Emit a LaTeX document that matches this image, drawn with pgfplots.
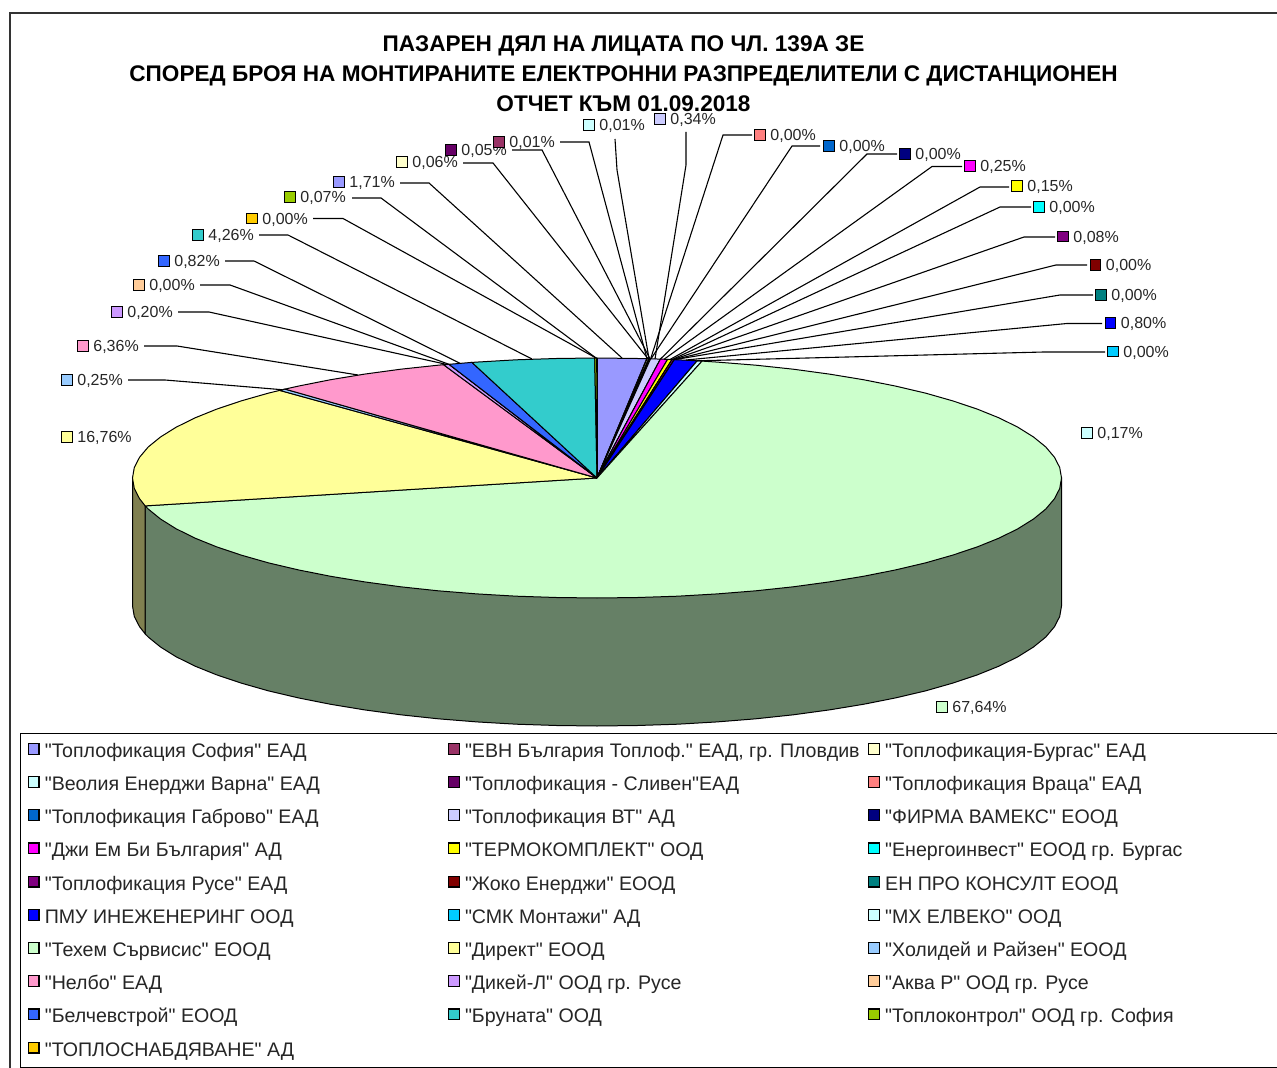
\documentclass[border=0pt]{standalone}
\usepackage{pgfplots}
\pgfplotsset{compat=1.18}
\usepackage{fontspec}
\setmainfont{Liberation Sans}[Ligatures=TeXOff]

\definecolor{c1}{HTML}{9999FF}
\definecolor{c2}{HTML}{993366}
\definecolor{c3}{HTML}{FFFFCC}
\definecolor{c4}{HTML}{CCFFFF}
\definecolor{c5}{HTML}{660066}
\definecolor{c6}{HTML}{FF8080}
\definecolor{c7}{HTML}{0066CC}
\definecolor{c8}{HTML}{CCCCFF}
\definecolor{c9}{HTML}{000080}
\definecolor{c10}{HTML}{FF00FF}
\definecolor{c11}{HTML}{FFFF00}
\definecolor{c12}{HTML}{00FFFF}
\definecolor{c13}{HTML}{800080}
\definecolor{c14}{HTML}{800000}
\definecolor{c15}{HTML}{008080}
\definecolor{c16}{HTML}{0000FF}
\definecolor{c17}{HTML}{00CCFF}
\definecolor{c18}{HTML}{CCFFFF}
\definecolor{c19}{HTML}{CCFFCC}
\definecolor{c20}{HTML}{FFFF99}
\definecolor{c21}{HTML}{99CCFF}
\definecolor{c22}{HTML}{FF99CC}
\definecolor{c23}{HTML}{CC99FF}
\definecolor{c24}{HTML}{FFCC99}
\definecolor{c25}{HTML}{3366FF}
\definecolor{c26}{HTML}{33CCCC}
\definecolor{c27}{HTML}{99CC00}
\definecolor{c28}{HTML}{FFCC00}
\definecolor{wall19}{HTML}{668066}
\definecolor{wall20}{HTML}{808050}

\pgfplotsset{
    slice/.style={fill=#1, draw=black, line width=.5pt},
    leader/.style={forget plot, black, line width=.55pt},
}
% value label: marker square, then the text
\newcommand{\lab}[4]{%
    \addplot[forget plot, only marks, mark=square*, mark size=2.6pt,
        mark options={fill=#3, draw=black, line width=.6pt}] coordinates {(#1,#2)};
    \node[anchor=base west, inner sep=0pt, xshift=5pt, yshift=-2.9pt, text=black!85,
        font=\fontsize{8}{10}\selectfont] at (axis cs:#1,#2) {#4\%};
}
% legend cells of fixed width, so the three columns stand where they should
\newcommand{\legA}[1]{\hspace*{2.6pt}\makebox[201.5pt][l]{#1}}
\newcommand{\legC}[1]{\hspace*{2.6pt}\makebox[196pt][l]{#1}}

\begin{document}
\begin{tikzpicture}
\path[use as bounding box] (0,0) rectangle (638.5pt,534pt);
\begin{axis}[
    scale only axis, width=638.5pt, height=534pt,
    xmin=0, xmax=1277, ymin=0, ymax=1068, y dir=reverse,
    hide axis, clip=false,
    legend columns=3, legend cell align=left,
    legend image code/.code={\draw[#1,line width=.6pt] (0pt,-1.7pt) rectangle (5.4pt,3.7pt);},
    legend style={
        at={(axis cs:20,732.5)}, anchor=north west, draw=black, line width=.6pt,
        inner xsep=3.5pt, inner ysep=.5pt, font=\fontsize{9.8}{12}\selectfont, text=black!85,
        nodes={inner xsep=0pt, inner ysep=0pt, text height=11.6pt, text depth=5pt},
    },
]
% frame of the chart
\addplot[forget plot, black!80, line width=.6pt] coordinates {(10,1068)(10,13)(1277,13)};

% side walls
\addplot[forget plot, slice=wall19] coordinates {
    (597,478)(1061.5,478)(1061.5,606)(1059.7,616.5)(1054.4,626.8)(1045.7,637.1)(1033.5,647)
    (1018,656.7)(999.3,666)(977.5,674.8)(952.8,683.1)(925.4,690.9)(895.6,697.9)(863.4,704.3)
    (829.3,709.9)(793.3,714.8)(755.9,718.8)(717.2,721.9)(677.7,724.2)(637.5,725.5)(597,726)
    (556.5,725.5)(516.3,724.2)(476.8,721.9)(438.1,718.8)(400.7,714.8)(364.7,709.9)(330.6,704.3)
    (298.4,697.9)(268.6,690.9)(241.2,683.1)(216.5,674.8)(194.7,666)(176,656.7)(160.5,647)
    (148.3,637.1)(145.2,633.9)(145.2,505.9)(597,478)};
\addplot[forget plot, slice=wall20] coordinates {
    (145.2,505.9)(145.2,633.9)(139.6,626.8)(134.3,616.5)(132.5,606)(132.5,478)(145.2,505.9)};

% top face, one slice per company, clockwise from the top
\addplot[slice=c1] coordinates {(597,478)(597,358)(637.5,358.5)(646.8,358.7)(597,478)};
\addlegendentry{\legA{"Топлофикация София" ЕАД}}
\addplot[slice=c2] coordinates {(597,478)(646.8,358.7)(647.1,358.7)(597,478)};
\addlegendentry{\legA{"ЕВН България Топлоф." ЕАД, гр. Пловдив}}
\addplot[slice=c3] coordinates {(597,478)(647.1,358.7)(648.8,358.75)(597,478)};
\addlegendentry{\legC{"Топлофикация-Бургас" ЕАД}}
\addplot[slice=c4] coordinates {(597,478)(648.8,358.75)(649.1,358.8)(597,478)};
\addlegendentry{\legA{"Веолия Енерджи Варна" ЕАД}}
\addplot[slice=c5] coordinates {(597,478)(649.1,358.8)(650.6,358.8)(597,478)};
\addlegendentry{\legA{"Топлофикация - Сливен"ЕАД}}
\addplot[slice=c6] coordinates {(597,478)(650.6,358.8)};
\addlegendentry{\legC{"Топлофикация Враца" ЕАД}}
\addplot[slice=c7] coordinates {(597,478)(650.6,358.8)};
\addlegendentry{\legA{"Топлофикация Габрово" ЕАД}}
\addplot[slice=c8] coordinates {(597,478)(650.6,358.8)(660.4,359.1)(597,478)};
\addlegendentry{\legA{"Топлофикация ВТ" АД}}
\addplot[slice=c9] coordinates {(597,478)(660.4,359.1)};
\addlegendentry{\legC{"ФИРМА ВАМЕКС" ЕООД}}
\addplot[slice=c10] coordinates {(597,478)(660.4,359.1)(667.6,359.4)(597,478)};
\addlegendentry{\legA{"Джи Ем Би България" АД}}
\addplot[slice=c11] coordinates {(597,478)(667.6,359.4)(672,359.6)(597,478)};
\addlegendentry{\legA{"ТЕРМОКОМПЛЕКТ" ООД}}
\addplot[slice=c12] coordinates {(597,478)(672,359.6)};
\addlegendentry{\legC{"Енергоинвест" ЕООД гр. Бургас}}
\addplot[slice=c13] coordinates {(597,478)(672,359.6)(674.3,359.7)(597,478)};
\addlegendentry{\legA{"Топлофикация Русе" ЕАД}}
\addplot[slice=c14] coordinates {(597,478)(674.3,359.7)};
\addlegendentry{\legA{"Жоко Енерджи" ЕООД}}
\addplot[slice=c15] coordinates {(597,478)(674.3,359.7)};
\addlegendentry{\legC{ЕН ПРО КОНСУЛТ ЕООД}}
\addplot[slice=c16] coordinates {(597,478)(674.3,359.7)(677.7,359.8)(697.2,360.8)(597,478)};
\addlegendentry{\legA{ПМУ ИНЕЖЕНЕРИНГ ООД}}
\addplot[slice=c17] coordinates {(597,478)(697.2,360.8)};
\addlegendentry{\legA{"СМК Монтажи" АД}}
\addplot[slice=c18] coordinates {(597,478)(697.2,360.8)(702,361.1)(597,478)};
\addlegendentry{\legC{"МХ ЕЛВЕКО" ООД}}
\addplot[slice=c19] coordinates {
    (597,478)(702,361.1)(717.2,362.1)(755.9,365.2)(793.3,369.2)(829.3,374.1)(863.4,379.7)
    (895.6,386.1)(925.4,393.1)(952.8,400.9)(977.5,409.2)(999.3,418)(1018,427.3)(1033.5,437)
    (1045.7,446.9)(1054.4,457.2)(1059.7,467.5)(1061.5,478)(1059.7,488.5)(1054.4,498.8)
    (1045.7,509.1)(1033.5,519)(1018,528.7)(999.3,538)(977.5,546.8)(952.8,555.1)(925.4,562.9)
    (895.6,569.9)(863.4,576.3)(829.3,581.9)(793.3,586.8)(755.9,590.8)(717.2,593.9)(677.7,596.2)
    (637.5,597.5)(597,598)(556.5,597.5)(516.3,596.2)(476.8,593.9)(438.1,590.8)(400.7,586.8)
    (364.7,581.9)(330.6,576.3)(298.4,569.9)(268.6,562.9)(241.2,555.1)(216.5,546.8)(194.7,538)
    (176,528.7)(160.5,519)(148.3,509.1)(145.2,505.9)(597,478)};
\addlegendentry{\legA{"Техем Сървисис" ЕООД}}
\addplot[slice=c20] coordinates {
    (597,478)(145.2,505.9)(139.6,498.8)(134.3,488.5)(132.5,478)(134.3,467.5)(139.6,457.2)
    (148.3,446.9)(160.5,437)(176,427.3)(194.7,418)(216.5,409.2)(241.2,400.9)(268.6,393.1)
    (279.7,390.4)(597,478)};
\addlegendentry{\legA{"Директ" ЕООД}}
\addplot[slice=c21] coordinates {(597,478)(279.7,390.4)(285,389.1)(597,478)};
\addlegendentry{\legC{"Холидей и Райзен" ЕООД}}
\addplot[slice=c22] coordinates {
    (597,478)(285,389.1)(298.4,386.1)(330.6,379.7)(364.7,374.1)(400.7,369.2)(438.1,365.2)
    (443.5,364.7)(597,478)};
\addlegendentry{\legA{"Нелбо" ЕАД}}
\addplot[slice=c23] coordinates {(597,478)(443.5,364.7)(449,364.3)(597,478)};
\addlegendentry{\legA{"Дикей-Л" ООД гр. Русе}}
\addplot[slice=c24] coordinates {(597,478)(449,364.3)};
\addlegendentry{\legC{"Аква Р" ООД гр. Русе}}
\addplot[slice=c25] coordinates {(597,478)(449,364.3)(471.9,362.4)(597,478)};
\addlegendentry{\legA{"Белчевстрой" ЕООД}}
\addplot[slice=c26] coordinates {
    (597,478)(471.9,362.4)(476.8,362.1)(516.3,359.8)(556.5,358.5)(594.7,358)(597,478)};
\addlegendentry{\legA{"Бруната" ООД}}
\addplot[slice=c27] coordinates {(597,478)(594.7,358)(596.7,358)(597,478)};
\addlegendentry{\legC{"Топлоконтрол" ООД гр. София}}
\addplot[slice=c28] coordinates {(597,478)(597,358)};
\addlegendentry{\legA{"ТОПЛОСНАБДЯВАНЕ" АД}}

% leader lines
\addplot[leader] coordinates {(128,380)(165,380)(282,389.7)};
\addplot[leader] coordinates {(144,346)(177,346)(358,375)};
\addplot[leader] coordinates {(178,312)(209,312)(447,364.5)};
\addplot[leader] coordinates {(200,285)(230,285)(449,364.3)};
\addplot[leader] coordinates {(225,261)(254,261)(460,363.3)};
\addplot[leader] coordinates {(259,235)(288,235)(532,359)};
\addplot[leader] coordinates {(313,218.5)(343,218.5)(596,358)};
\addplot[leader] coordinates {(352,198)(381,198)(596,358)};
\addplot[leader] coordinates {(400,183)(429,183)(622,358)};
\addplot[leader] coordinates {(463,163)(493,163)(648,358.7)};
\addplot[leader] coordinates {(512,150)(542,150)(650,358.8)};
\addplot[leader] coordinates {(560,142)(589,142)(647,358.7)};
\addplot[leader] coordinates {(615,139)(617,170)(649,358.8)};
\addplot[leader] coordinates {(686,132)(686,165)(655,359)};
\addplot[leader] coordinates {(752,135)(723,135)(650.6,358.8)};
\addplot[leader] coordinates {(820,146)(792,146)(651,358.8)};
\addplot[leader] coordinates {(897,154)(867,154)(660.4,359.1)};
\addplot[leader] coordinates {(962,166.5)(932,166.5)(664,359.3)};
\addplot[leader] coordinates {(1009,187)(980,187)(670,359.5)};
\addplot[leader] coordinates {(1031,207)(1000,207)(672,359.6)};
\addplot[leader] coordinates {(1055,237)(1024,237)(673,359.7)};
\addplot[leader] coordinates {(1087,265)(1056,265)(674.3,359.7)};
\addplot[leader] coordinates {(1093,295)(1060,295)(674.3,359.7)};
\addplot[leader] coordinates {(1102,323.5)(1067,323.5)(686,360)};
\addplot[leader] coordinates {(1105,352)(1044,352)(697.2,360.8)};

% value labels
\lab{339}{182}{c1}{1,71}
\lab{499}{142}{c2}{0,01}
\lab{402}{162}{c3}{0,06}
\lab{589}{125}{c4}{0,01}
\lab{451}{150}{c5}{0,05}
\lab{760}{135}{c6}{0,00}
\lab{829}{146}{c7}{0,00}
\lab{660}{119}{c8}{0,34}
\lab{905}{154}{c9}{0,00}
\lab{970}{166}{c10}{0,25}
\lab{1017}{186}{c11}{0,15}
\lab{1039}{207}{c12}{0,00}
\lab{1063}{236.5}{c13}{0,08}
\lab{1095.5}{265}{c14}{0,00}
\lab{1101}{295}{c15}{0,00}
\lab{1110.5}{323}{c16}{0,80}
\lab{1113}{351.5}{c17}{0,00}
\lab{1087}{433}{c18}{0,17}
\lab{942}{707}{c19}{67,64}
\lab{67}{437}{c20}{16,76}
\lab{67}{380}{c21}{0,25}
\lab{83}{346}{c22}{6,36}
\lab{117}{312}{c23}{0,20}
\lab{139}{285}{c24}{0,00}
\lab{164}{261}{c25}{0,82}
\lab{198}{235}{c26}{4,26}
\lab{290}{197}{c27}{0,07}
\lab{252}{218.5}{c28}{0,00}

% title
\node[font=\bfseries\fontsize{11.3}{15}\selectfont, align=center, inner sep=0pt] at (axis cs:623.5,73.5) {%
    ПАЗАРЕН ДЯЛ НА ЛИЦАТА ПО ЧЛ. 139А ЗЕ\\
    СПОРЕД БРОЯ НА МОНТИРАНИТЕ ЕЛЕКТРОННИ РАЗПРЕДЕЛИТЕЛИ С ДИСТАНЦИОНЕН\\
    ОТЧЕТ КЪМ 01.09.2018};
\end{axis}
\end{tikzpicture}
\end{document}
